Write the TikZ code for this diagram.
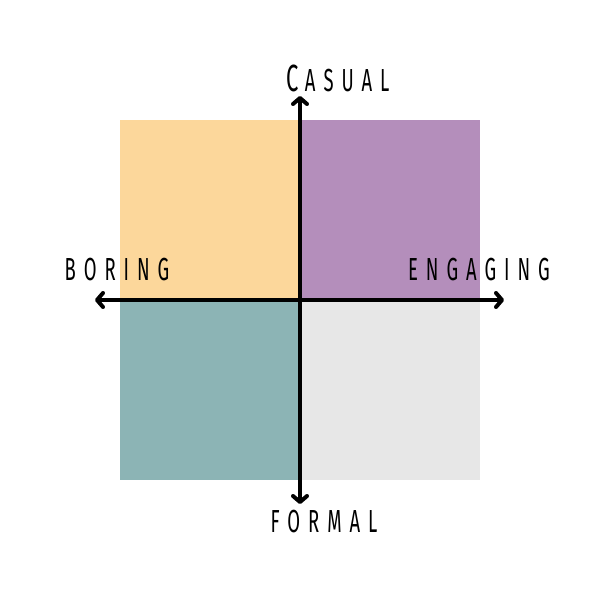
\documentclass[tikz,border=0pt]{standalone}
\usepackage{fontspec}
\usetikzlibrary{arrows.meta}
\newfontfamily\lblfont[FakeStretch=0.58,LetterSpace=25]{Fira Sans}
\definecolor{qorange}{HTML}{FCD79B}
\definecolor{qpurple}{HTML}{B48EBB}
\definecolor{qteal}{HTML}{8CB4B5}
\definecolor{qgray}{HTML}{E7E7E7}
\tikzset{
  axis/.style={line width=4bp, line cap=round, -{Straight Barb[length=6bp,width=14bp,line width=4bp,round]}},
  lbl/.style={font=\lblfont\fontsize{32}{32}\selectfont, text=black, inner sep=0pt}
}
\begin{document}
\begin{tikzpicture}[x=1bp,y=-1bp]
\useasboundingbox (0,0) rectangle (600,600);
\fill[white] (0,0) rectangle (600,600);
\fill[qorange] (120,120) rectangle (300,300);
\fill[qpurple] (300,120) rectangle (480,300);
\fill[qteal] (120,300) rectangle (300,480);
\fill[qgray] (300,300) rectangle (480,480);
\coordinate (o) at (300,300);
\coordinate (l) at (95,300);
\coordinate (r) at (504,300);
\coordinate (t) at (300,96);
\coordinate (b) at (300,504);
\draw[axis] (o) -- (l);
\draw[axis] (o) -- (r);
\draw[axis] (o) -- (t);
\draw[axis] (o) -- (b);
\node[lbl] (casual) at (338,78) {{\fontsize{38}{38}\selectfont C}\hspace{6bp}ASUAL};
\node[lbl] (boring) at (117,270) {BORING};
\node[lbl] (engaging) at (479,270) {ENGAGING};
\node[lbl] (formal) at (324,522) {FORMAL};
\end{tikzpicture}
\end{document}
